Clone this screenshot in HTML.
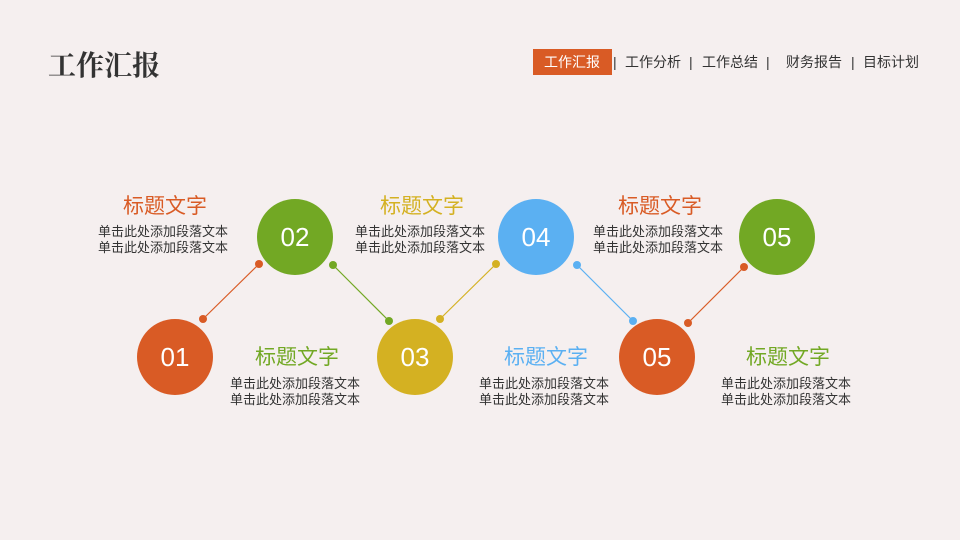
<!DOCTYPE html>
<html><head><meta charset="utf-8"><style>
body{margin:0;width:960px;height:540px;background:#F5EFEF;position:relative;overflow:hidden;font-family:"Liberation Sans","Noto Sans CJK SC",sans-serif}
.a{position:absolute;white-space:nowrap}
.t{font-size:21px;text-align:center;width:200px;line-height:24px}
.d{font-size:13px;color:#333;text-align:center;width:200px;line-height:16px}
.c{position:absolute;border-radius:50%;color:#fff;font-size:26px;text-align:center;width:76px;height:76px;line-height:76px}
.n{position:absolute;top:54px;font-size:14px;color:#333;line-height:17px}
</style></head><body>
<div class="a" style="left:48px;top:44px;font-size:28px;font-weight:bold;font-family:'Liberation Serif','Noto Serif CJK SC',serif;color:#333">工作汇报</div>
<div class="a" style="left:533px;top:49px;width:79px;height:26px;background:#D95B25"></div>
<div class="n" style="left:544px;color:#fff">工作汇报</div>
<div class="n" style="left:613px">|</div>
<div class="n" style="left:625px">工作分析</div>
<div class="n" style="left:689px">|</div>
<div class="n" style="left:702px">工作总结</div>
<div class="n" style="left:766px">|</div>
<div class="n" style="left:786px">财务报告</div>
<div class="n" style="left:851px">|</div>
<div class="n" style="left:863px">目标计划</div>
<svg class="a" style="left:0;top:0" width="960" height="540">
<g stroke-width="1.2">
<line x1="203" y1="319" x2="259" y2="264" stroke="#D95B25"/>
<line x1="333" y1="265" x2="389" y2="321" stroke="#72A824"/>
<line x1="440" y1="319" x2="496" y2="264" stroke="#D4B122"/>
<line x1="577" y1="265" x2="633" y2="321" stroke="#5BB0F2"/>
<line x1="688" y1="323" x2="744" y2="267" stroke="#D95B25"/>
</g>
<circle cx="203" cy="319" r="4" fill="#D95B25"/><circle cx="259" cy="264" r="4" fill="#D95B25"/>
<circle cx="333" cy="265" r="4" fill="#72A824"/><circle cx="389" cy="321" r="4" fill="#72A824"/>
<circle cx="440" cy="319" r="4" fill="#D4B122"/><circle cx="496" cy="264" r="4" fill="#D4B122"/>
<circle cx="577" cy="265" r="4" fill="#5BB0F2"/><circle cx="633" cy="321" r="4" fill="#5BB0F2"/>
<circle cx="688" cy="323" r="4" fill="#D95B25"/><circle cx="744" cy="267" r="4" fill="#D95B25"/>
</svg>
<div class="c" style="left:137px;top:319px;background:#D95B25">01</div>
<div class="c" style="left:257px;top:199px;background:#72A824">02</div>
<div class="c" style="left:377px;top:319px;background:#D4B122">03</div>
<div class="c" style="left:498px;top:199px;background:#5BB0F2">04</div>
<div class="c" style="left:619px;top:319px;background:#D95B25">05</div>
<div class="c" style="left:739px;top:199px;background:#72A824">05</div>

<div class="a t" style="left:65px;top:195px;color:#D95B25">标题文字</div>
<div class="a d" style="left:63px;top:224px">单击此处添加段落文本<br>单击此处添加段落文本</div>
<div class="a t" style="left:322px;top:195px;color:#D4B122">标题文字</div>
<div class="a d" style="left:320px;top:224px">单击此处添加段落文本<br>单击此处添加段落文本</div>
<div class="a t" style="left:560px;top:195px;color:#D95B25">标题文字</div>
<div class="a d" style="left:558px;top:224px">单击此处添加段落文本<br>单击此处添加段落文本</div>

<div class="a t" style="left:197px;top:346px;color:#72A824">标题文字</div>
<div class="a d" style="left:195px;top:376px">单击此处添加段落文本<br>单击此处添加段落文本</div>
<div class="a t" style="left:446px;top:346px;color:#5BB0F2">标题文字</div>
<div class="a d" style="left:444px;top:376px">单击此处添加段落文本<br>单击此处添加段落文本</div>
<div class="a t" style="left:688px;top:346px;color:#72A824">标题文字</div>
<div class="a d" style="left:686px;top:376px">单击此处添加段落文本<br>单击此处添加段落文本</div>
</body></html>
